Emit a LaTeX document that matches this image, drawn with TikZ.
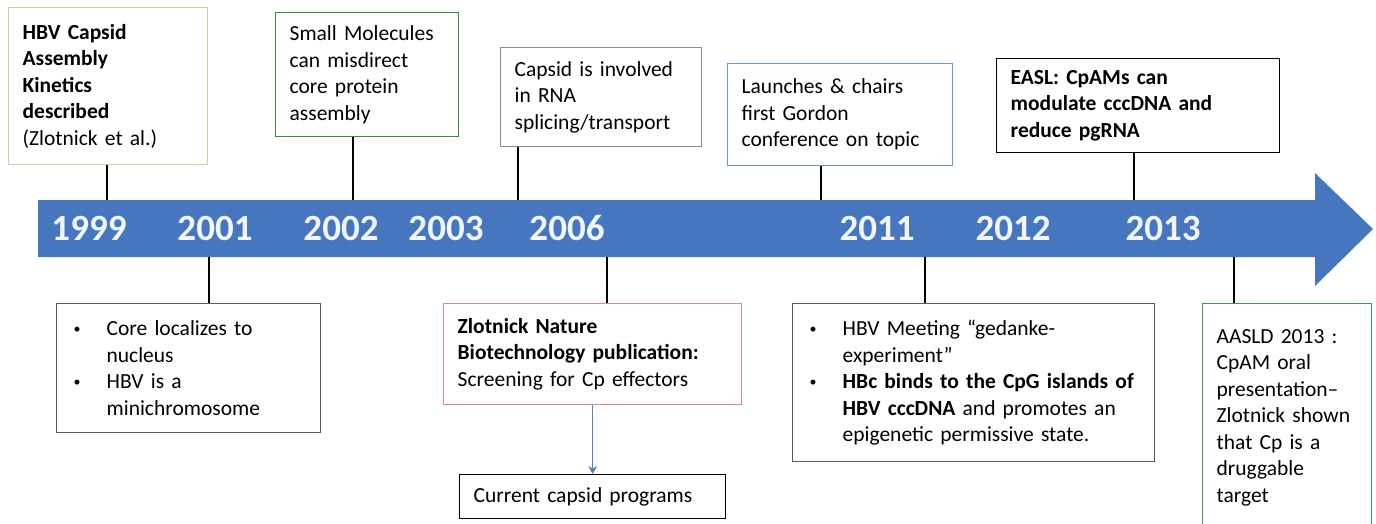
\documentclass[tikz,border=0pt]{standalone}
\usepackage{fontspec}
\setmainfont{Carlito}
\usepackage{tikz}
\usetikzlibrary{calc,positioning,arrows.meta}
\definecolor{tlblue}{RGB}{70,118,190}
\definecolor{yeartext}{RGB}{240,246,252}
\definecolor{olivebd}{RGB}{196,212,158}
\definecolor{greenbd}{RGB}{58,138,70}
\definecolor{greybd}{RGB}{140,140,140}
\definecolor{bluebd}{RGB}{112,150,198}
\definecolor{darkbd}{RGB}{90,90,90}
\definecolor{redbd}{RGB}{214,140,140}
\definecolor{mintbd}{RGB}{62,150,84}
\definecolor{flowblue}{RGB}{92,130,170}
\newcommand{\evbullet}{\hspace*{1.5pt}\makebox[16.5pt][l]{\raisebox{1pt}{\scalebox{0.65}{\textbullet}}}}
\newcommand{\evindent}{\hspace*{18pt}}
\tikzset{
  evbox/.style={draw, fill=white, anchor=north west, align=left, inner xsep=7pt, inner ysep=0pt,
    line width=0.65pt, font=\fontsize{10.75pt}{13.25pt}\selectfont},
  stem/.style={line width=0.55pt},
  flow/.style={draw=flowblue, line width=0.6pt, -{Stealth[length=4pt,width=4.5pt]}},
  year/.style={text=yeartext, inner sep=0pt, font=\fontsize{18.5pt}{20pt}\selectfont\bfseries}
}

\begin{document}
\begin{tikzpicture}[x=0.5pt,y=-0.5pt]
  \useasboundingbox (0,0) rectangle (1376,524);
  \clip (0,0) rectangle (1376,524);
  \fill[tlblue] (38,200) -- (1315,200) -- (1315,173) -- (1373,229) -- (1315,286) -- (1315,257) -- (38,257) -- cycle;
  \foreach \yr/\xx in {1999/89,2001/215,2002/341,2003/446,2006/567,2011/877,2012/1013,2013/1163}
    \node[year] (y\yr) at (\xx,228) {\yr};
  \foreach \n/\xx in {a/107,b/353,c/518,d/821,e/1134}
    \coordinate (up\n) at (\xx,200);
  \foreach \n/\xx in {f/209,g/607,h/925,i/1234}
    \coordinate (dn\n) at (\xx,257);

  \node[evbox, draw=olivebd, minimum width=99.5pt, text width=85.5pt, minimum height=78.5pt] (kin) at (8,7)
    {\textbf{HBV Capsid}\\\textbf{Assembly}\\\textbf{Kinetics}\\\textbf{described}\\(Zlotnick et al.)};
  \node[evbox, draw=greenbd, minimum width=91.5pt, text width=77.5pt, minimum height=62pt] (smallmol) at (275,12)
    {Small Molecules\\can misdirect\\core protein\\assembly};
  \node[evbox, draw=greybd, minimum width=100.5pt, text width=86.5pt, minimum height=49.5pt] (splice) at (500,47)
    {Capsid is involved\\in RNA\\splicing/transport};
  \node[evbox, draw=bluebd, minimum width=112.5pt, text width=98.5pt, minimum height=51pt] (gordon) at (727,63)
    {Launches \& chairs\\first Gordon\\conference on topic};
  \node[evbox, draw=black, minimum width=141.5pt, text width=127.5pt, minimum height=47pt] (easl) at (996,58)
    {\textbf{EASL: CpAMs can}\\\textbf{modulate cccDNA and}\\\textbf{reduce pgRNA}};

  \node[evbox, draw=darkbd, minimum width=132pt, text width=118pt, minimum height=64.5pt] (nucleus) at (56,303)
    {\evbullet Core localizes to\\\evindent nucleus\\\evbullet HBV is a\\\evindent minichromosome};
  \node[evbox, draw=redbd, minimum width=149pt, text width=135pt, minimum height=50.5pt] (natbio) at (443,303)
    {\textbf{Zlotnick Nature}\\\textbf{Biotechnology publication:}\\Screening for Cp effectors};
  \node[evbox, draw=black, minimum width=133pt, text width=119pt, minimum height=22pt] (programs) at (459,474)
    {Current capsid programs};
  \node[evbox, draw=darkbd, minimum width=181pt, text width=167pt, minimum height=79pt] (gedanke) at (792,303)
    {\evbullet HBV Meeting “gedanke-\\\evindent experiment”\\\evbullet \textbf{HBc binds to the CpG islands of}\\\evindent \textbf{HBV cccDNA} and promotes an\\\evindent epigenetic permissive state.};
  \node[evbox, draw=mintbd, minimum width=84.5pt, text width=70.5pt, minimum height=114pt] (aasld) at (1202,303)
    {AASLD 2013 :\\CpAM oral\\presentation–\\Zlotnick shown\\that Cp is a\\druggable\\target};

  \draw[stem] (kin.south -| upa) -- (upa);
  \draw[stem] (smallmol.south -| upb) -- (upb);
  \draw[stem] (splice.south -| upc) -- (upc);
  \draw[stem] (gordon.south -| upd) -- (upd);
  \draw[stem] (easl.south -| upe) -- (upe);
  \draw[stem] (dnf) -- (nucleus.north -| dnf);
  \draw[stem] (dng) -- (natbio.north -| dng);
  \draw[stem] (dnh) -- (gedanke.north -| dnh);
  \draw[stem] (dni) -- (aasld.north -| dni);
  \draw[flow] (natbio) -- (programs);
\end{tikzpicture}
\end{document}
